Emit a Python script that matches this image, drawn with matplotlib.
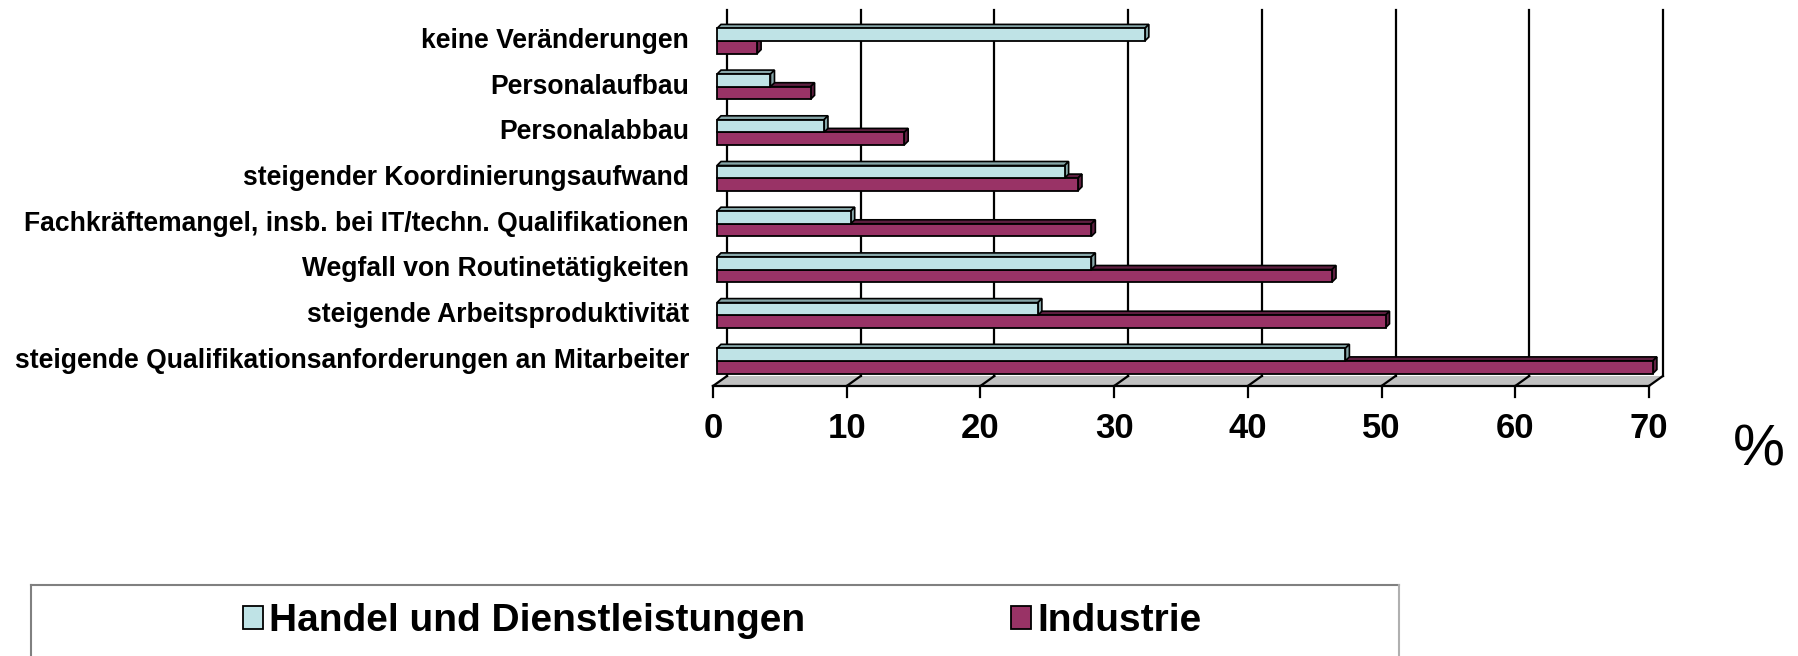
import matplotlib.pyplot as plt
from matplotlib.patches import Polygon, Patch
from matplotlib.lines import Line2D

# Data (top to bottom as shown)
categories = [
    "keine Veränderungen",
    "Personalaufbau",
    "Personalabbau",
    "steigender Koordinierungsaufwand",
    "Fachkräftemangel, insb. bei IT/techn. Qualifikationen",
    "Wegfall von Routinetätigkeiten",
    "steigende Arbeitsproduktivität",
    "steigende Qualifikationsanforderungen an Mitarbeiter",
]
handel = [32, 4, 8, 26, 10, 28, 24, 47]
industrie = [3, 7, 14, 27, 28, 46, 50, 70]
series_names = ["Handel und Dienstleistungen", "Industrie"]
x_ticks = [0, 10, 20, 30, 40, 50, 60, 70]

plt.rcParams['font.family'] = ['Liberation Sans', 'DejaVu Sans']

col_h, col_h_dark = '#bfe3e6', '#86a6a8'
col_i, col_i_dark = '#993366', '#5e1f40'

W, H = 1798, 656
fig = plt.figure(figsize=(W / 100, H / 100), dpi=100)
ax = fig.add_axes([0, 0, 1, 1])

# pixel scale of the value axis and of the category axis
px_x, px_y = 13.37, 45.7
ax.set_xlim(-717 / px_x, (W - 717) / px_x)
ax.set_ylim((H - 41) / px_y, -41 / px_y)
ax.axis('off')

# pseudo-3D offsets
wall_dx, wall_dy = 14 / px_x, -10 / px_y
bar_dx, bar_dy = 4 / px_x, -4 / px_y
x0 = -4 / px_x
floor_back = (376 - 41) / px_y
floor_front = floor_back - wall_dy
wall_top = (10 - 41) / px_y
xmax = x_ticks[-1]

# back wall gridlines
for g in x_ticks:
    ax.plot([x0 + g + wall_dx] * 2, [wall_top, floor_back], color='black', lw=1.6, zorder=1)

# floor
floor = Polygon([(x0, floor_front), (x0 + xmax, floor_front),
                 (x0 + xmax + wall_dx, floor_back), (x0 + wall_dx, floor_back)],
                closed=True, facecolor='#c0c0c0', edgecolor='none', zorder=0.5)
ax.add_patch(floor)
ax.plot([x0, x0 + xmax], [floor_front] * 2, color='black', lw=1.6, zorder=1)
for g in x_ticks:
    ax.plot([x0 + g, x0 + g + wall_dx], [floor_front, floor_back], color='black', lw=1.6, zorder=1)
    ax.plot([x0 + g] * 2, [floor_front, floor_front + 11 / px_y], color='black', lw=1.6, zorder=1)
    ax.text(x0 + g, (428 - 41) / px_y, str(g), ha='center', va='center',
            fontsize=25, fontweight='bold')

# bars
ypos = list(range(len(categories)))
bh = 12.6 / px_y
off = 6.3 / px_y


def faces(v, yc, face, zo):
    yt, yb = yc - bh / 2, yc + bh / 2
    top = Polygon([(0, yt), (v, yt), (v + bar_dx, yt + bar_dy), (bar_dx, yt + bar_dy)],
                  closed=True, facecolor=face, edgecolor='black', lw=1.2, zorder=zo)
    side = Polygon([(v, yt), (v, yb), (v + bar_dx, yb + bar_dy), (v + bar_dx, yt + bar_dy)],
                   closed=True, facecolor=face, edgecolor='black', lw=1.2, zorder=zo)
    ax.add_patch(top)
    ax.add_patch(side)


for k in ypos:
    faces(industrie[k], k + off, col_i_dark, 2)
    faces(handel[k], k - off, col_h_dark, 4)

ax.barh([k + off for k in ypos], industrie, height=bh, color=col_i, edgecolor='black', lw=1.3, zorder=3)
ax.barh([k - off for k in ypos], handel, height=bh, color=col_h, edgecolor='black', lw=1.3, zorder=5)

# category labels
for k, name in zip(ypos, categories):
    ax.text((689 - 717) / px_x, k, name, ha='right', va='center', fontsize=19.1, fontweight='bold')

# unit
ax.text((1759 - 717) / px_x, (450 - 41) / px_y, '%', ha='center', va='center', fontsize=42)

# legend
handles = [Patch(facecolor=col_h, edgecolor='black', lw=1.3),
           Patch(facecolor=col_i, edgecolor='black', lw=1.3)]
fig.legend(handles, series_names, ncol=2, loc='center', bbox_to_anchor=(722 / W, 1 - 621 / H),
           frameon=False, prop={'size': 28, 'weight': 'bold'}, handlelength=0.52,
           handleheight=0.55, handletextpad=0.15, columnspacing=5.3)
ly = 1 - 585 / H
fig.add_artist(Line2D([31 / W, 1399 / W], [ly, ly], color='#808080', lw=1.5))
fig.add_artist(Line2D([31 / W, 31 / W], [ly, 0], color='#808080', lw=1.5))
fig.add_artist(Line2D([1399 / W, 1399 / W], [ly, 0], color='#b0b0b0', lw=1.5))

plt.savefig('out.png', dpi=100)
